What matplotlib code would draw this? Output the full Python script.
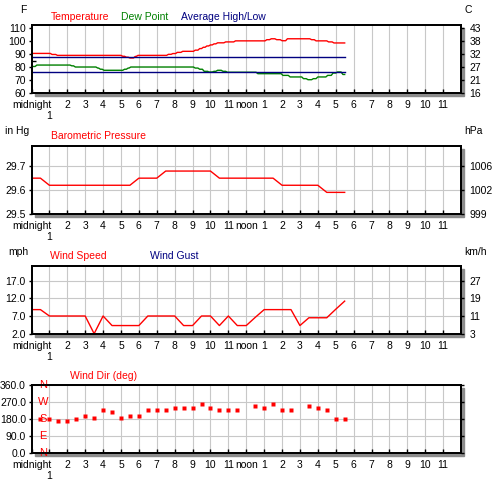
import numpy as np
import matplotlib
matplotlib.use('Agg')
import matplotlib.pyplot as plt
from matplotlib.patches import Rectangle

plt.rcParams['font.family'] = ['Liberation Sans', 'DejaVu Sans']

# x axis: hours of the day
hour_ticks = list(range(24))
hour_labels = ['midnight', '', '2', '3', '4', '5', '6', '7', '8', '9', '10', '11',
               'noon', '1', '2', '3', '4', '5', '6', '7', '8', '9', '10', '11']

# temperature (F)
temp_h = [0.0, 1.05, 1.15, 1.35, 1.45, 5.0, 5.1, 5.2, 5.3, 5.4, 5.5, 5.7, 5.8, 5.85,
          5.95, 7.55, 7.65, 7.8, 7.9, 8.05, 8.15, 8.35, 8.45, 9.05, 9.15, 9.3, 9.4, 9.5,
          9.6, 9.7, 9.8, 9.9, 10.0, 10.1, 10.2, 10.3, 10.4, 10.75, 10.85, 11.3, 11.4,
          13.05, 13.15, 13.3, 13.4, 13.6, 13.7, 13.9, 14.0, 14.2, 14.3, 15.55, 15.65,
          15.8, 15.9, 16.5, 16.6, 16.8, 16.9, 17.5]
temp_v = [90.5, 90.5, 89.7, 89.7, 89.0, 89.0, 88.3, 88.3, 87.6, 87.6, 87.0, 87.0, 88.2, 88.2,
          89.0, 89.0, 89.8, 89.8, 90.4, 90.4, 91.3, 91.3, 92.1, 92.1, 93.0, 93.0, 94.2, 94.2,
          95.2, 95.2, 96.2, 96.2, 97.0, 97.0, 97.8, 97.8, 98.6, 98.6, 99.3, 99.3, 100.1,
          100.1, 101.0, 101.0, 101.7, 101.7, 101.0, 101.0, 100.2, 100.2, 101.7, 101.7, 101.0,
          101.0, 100.1, 100.1, 99.3, 99.3, 98.5, 98.5]

# dew point (F)
dew_h = [0.0, 0.2, 0.3, 2.15, 2.25, 2.35, 2.45, 3.6, 3.7, 3.75, 3.85, 3.95, 4.05, 5.1,
         5.2, 5.3, 5.4, 5.45, 5.55, 9.05, 9.15, 9.3, 9.4, 9.55, 9.65, 9.85, 9.9, 10.1,
         10.2, 10.3, 10.4, 10.6, 10.7, 10.85, 10.95, 12.55, 12.65, 13.95, 14.05, 14.35,
         14.45, 15.1, 15.2, 15.35, 15.45, 15.65, 15.75, 15.9, 16.0, 16.45, 16.55, 16.75,
         16.85, 17.0, 17.1, 17.3, 17.4, 17.5]
dew_v = [80.5, 80.5, 81.6, 81.6, 81.0, 81.0, 80.1, 80.1, 79.3, 79.3, 78.4, 78.4, 77.6, 77.6,
         78.4, 78.4, 79.3, 79.3, 80.1, 80.1, 79.3, 79.3, 78.4, 78.4, 76.8, 76.8, 76.3, 76.3,
         76.8, 76.8, 77.6, 77.6, 76.8, 76.8, 76.1, 76.1, 75.0, 75.0, 73.7, 73.7,
         72.5, 72.5, 71.2, 71.2, 70.4, 70.4, 71.2, 71.2, 72.5, 72.5, 73.7, 73.7,
         75.5, 75.5, 76.3, 76.3, 74.4, 74.4]

avg_high = 87.8
avg_low = 76.1
avg_end = 17.5

# barometric pressure (inHg)
pres_h = [0.0, 0.5, 1.0, 5.5, 6.0, 7.0, 7.5, 10.0, 10.5, 13.5, 14.0, 16.0, 16.5, 17.5]
pres_v = [29.65, 29.65, 29.62, 29.62, 29.65, 29.65, 29.68, 29.68, 29.65, 29.65, 29.62,
          29.62, 29.59, 29.59]

# wind speed (mph)
wind_h = [0.0, 0.5, 1.0, 1.5, 2.0, 2.5, 3.0, 3.5, 4.0, 4.5, 5.0, 5.5, 6.0, 6.5, 7.0, 7.5,
          8.0, 8.5, 9.0, 9.5, 10.0, 10.5, 11.0, 11.5, 12.0, 12.5, 13.0, 13.5, 14.0, 14.5,
          15.0, 15.5, 16.0, 16.5, 17.0, 17.5]
wind_v = [8.8, 8.8, 7.0, 7.0, 7.0, 7.0, 7.0, 2.0, 7.0, 4.3, 4.3, 4.3, 4.3, 7.0, 7.0, 7.0,
          7.0, 4.3, 4.3, 7.0, 7.0, 4.3, 7.0, 4.3, 4.3, 6.6, 8.8, 8.8, 8.8, 8.8,
          4.3, 6.5, 6.5, 6.5, 8.9, 11.2]

# wind direction (deg)
dir_h = [0.5, 1.0, 1.5, 2.0, 2.5, 3.0, 3.5, 4.0, 4.5, 5.0, 5.5, 6.0, 6.5, 7.0, 7.5, 8.0,
         8.5, 9.0, 9.5, 10.0, 10.5, 11.0, 11.5, 12.5, 13.0, 13.5, 14.0, 14.5, 15.5, 16.0,
         16.5, 17.0, 17.5]
dir_v = [180, 180, 169, 169, 180, 195, 185, 226, 216, 185, 195, 195, 226, 226, 226, 237,
         237, 237, 258, 237, 226, 226, 226, 248, 237, 258, 226, 226, 248, 237,
         226, 180, 180]
compass = ['N', 'W', 'S', 'E', 'N']
compass_deg = [360, 270, 180, 90, 0]

W, H = 500, 480
LEFT, RIGHT = 31.5, 461
PH = 68
FS = 7.5
RED = '#ff0000'
GREEN = '#008000'
NAVY = '#000080'


def fx(x):
    return x / W


def fy(y):
    return 1 - y / H


def panel(fig, top, ylim, ticks, left_labels, right_labels, hgrid=True):
    rect = [fx(LEFT), fy(top + PH), (RIGHT - LEFT) / W, PH / H]
    # drop shadow
    fig.add_artist(Rectangle((fx(LEFT + 3), fy(top + PH + 3)), (RIGHT - LEFT) / W, PH / H,
                             transform=fig.transFigure, color='#8c8c8c', zorder=-1))
    ax = fig.add_axes(rect)
    ax.set_xlim(0, 24)
    ax.set_ylim(*ylim)
    for h in range(1, 24):
        ax.axvline(h, color='#c8c8c8', lw=0.8, zorder=0)
    if hgrid:
        for t in ticks:
            ax.axhline(t, color='#c8c8c8', lw=0.8, zorder=0)
    ax.set_xticks(hour_ticks)
    ax.set_xticklabels(hour_labels, fontsize=FS)
    ax.tick_params(axis='x', direction='in', length=3, width=1, pad=5, color='black')
    # the "1" after midnight sits on a second line
    ax.text(1, -23 / PH, '1', transform=ax.get_xaxis_transform(), ha='center',
            va='center', fontsize=FS)
    ax.set_yticks(ticks)
    ax.set_yticklabels(left_labels, fontsize=FS)
    ax.tick_params(axis='y', direction='out', length=2, width=1, pad=2)
    for s in ax.spines.values():
        s.set_linewidth(1.3)
        s.set_color('black')
    ax2 = ax.twinx()
    ax2.set_ylim(*ylim)
    ax2.set_yticks(ticks)
    ax2.set_yticklabels(right_labels, fontsize=FS)
    ax2.tick_params(axis='y', direction='out', length=2, width=1, pad=4)
    for s in ax2.spines.values():
        s.set_linewidth(1.3)
    return ax


def label(fig, x, y, s, color='black', ha='left', size=FS):
    fig.text(fx(x), fy(y), s, color=color, ha=ha, va='center', fontsize=size)


fig = plt.figure(figsize=(W / 100, H / 100), dpi=100)

# temperature panel
ax = panel(fig, 25.3, (60, 112), [60, 70, 80, 90, 100, 110],
           ['60', '70', '80', '90', '100', '110'],
           ['16', '21', '27', '32', '38', '43'], hgrid=False)
ax.set_yticks([70, 85, 100], minor=True)
ax.tick_params(axis='y', which='minor', direction='in', length=3, width=1)
ax.plot(temp_h, temp_v, color=RED, lw=1)
ax.plot(dew_h, dew_v, color=GREEN, lw=1)
ax.plot([0, avg_end], [avg_high, avg_high], color=NAVY, lw=1)
ax.plot([0, avg_end], [avg_low, avg_low], color=NAVY, lw=1)
label(fig, 23, 10, 'F', ha='center')
label(fig, 468, 10, 'C', ha='center')
label(fig, 51, 16.5, 'Temperature', RED, size=7.5)
label(fig, 120.7, 16.5, 'Dew Point', GREEN, size=7.5)
label(fig, 180.7, 16.5, 'Average High/Low', NAVY, size=7.5)

# pressure panel
ax = panel(fig, 145.7, (29.5, 29.787), [29.5, 29.6, 29.7],
           ['29.5', '29.6', '29.7'], ['999', '1002', '1006'])
ax.plot(pres_h, pres_v, color=RED, lw=1)
label(fig, 5, 131.3, 'in Hg')
label(fig, 464, 131.3, 'hPa')
label(fig, 50.7, 136.3, 'Barometric Pressure', RED, size=7.5)

# wind speed panel
ax = panel(fig, 265.7, (2, 21.2), [2, 7, 12, 17],
           ['2.0', '7.0', '12.0', '17.0'], ['3', '11', '19', '27'])
ax.plot(wind_h, wind_v, color=RED, lw=1)
label(fig, 8, 252, 'mph')
label(fig, 464, 252, 'km/h')
label(fig, 50, 256.3, 'Wind Speed', RED, size=7.5)
label(fig, 150, 256.3, 'Wind Gust', NAVY, size=7.5)

# wind direction panel
ax = panel(fig, 385, (0, 360), [0, 90, 180, 270, 360],
           ['0.0', '90.0', '180.0', '270.0', '360.0'], ['', '', '', '', ''])
ax.plot(dir_h, dir_v, 's', color=RED, ms=2.4, mec='none')
for c, d in zip(compass, compass_deg):
    ax.text(0.66, d, c, color=RED, ha='center', va='center', fontsize=8, clip_on=False)
label(fig, 70, 375.7, 'Wind Dir (deg)', RED, size=7.5)

fig.savefig('out.png', dpi=100)
